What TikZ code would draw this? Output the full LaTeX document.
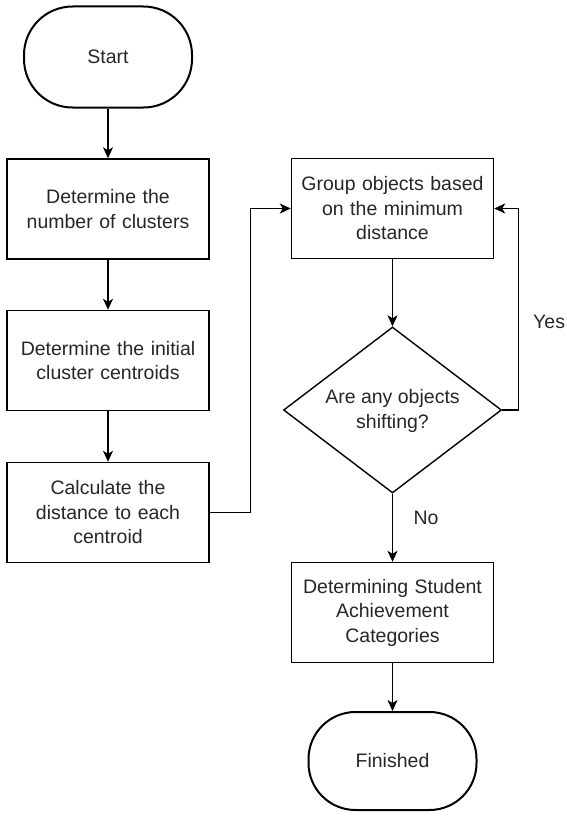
\documentclass[tikz,border=0pt]{standalone}
\usepackage{fontspec}
\setmainfont{Liberation Sans}
\usetikzlibrary{shapes.geometric,arrows.meta}
\newcommand{\fsz}{\fontsize{19.5}{24.5}\selectfont}
\begin{document}
\begin{tikzpicture}[x=1pt,y=-1pt,
  every node/.style={text=black!85},
  box/.style={draw=black,line width=1.4pt,minimum width=202pt,minimum height=100pt,align=center,text width=192pt,inner sep=0pt,font=\fsz},
  term/.style={draw=black,line width=2pt,rounded corners=48.5pt,minimum width=168pt,minimum height=101pt,inner sep=0pt,font=\fsz},
  dia/.style={draw=black,line width=1.4pt,diamond,minimum width=218pt,minimum height=166pt,inner sep=0pt},
  lbl/.style={font=\fsz,inner sep=0pt,align=center},
  conn/.style={draw=black,line width=1.4pt,-{Stealth[length=11pt,width=10pt,inset=3pt]}}
]
\useasboundingbox (0,0) rectangle (566,816);
\node[term] (start) at (108,57) {Start};
\node[box] (b1) at (108,209) {Determine the\\number of clusters};
\node[box] (b2) at (108,360.5) {Determine the initial\\cluster centroids};
\node[box] (b3) at (108,512.5) {Calculate the\\distance to each\\centroid};
\node[box] (b4) at (392.5,208.5) {Group objects based\\on the minimum\\distance};
\node[dia] (d) at (392.5,410) {};
\node[lbl] (dt) at (392.5,411) {Are any objects\\shifting?};
\node[box] (b5) at (392.5,612.5) {Determining Student\\Achievement\\Categories};
\node[term,minimum height=98pt,rounded corners=47pt] (fin) at (392.5,761) {Finished};
\node[lbl,anchor=west] (yes) at (533,322) {Yes};
\node[lbl] (no) at (426,518) {No};
\draw[conn] (start) -- (b1);
\draw[conn] (b1) -- (b2);
\draw[conn] (b2) -- (b3);
\draw[conn] (b3.east) -- ++(41,0) |- (b4.west);
\draw[conn] (b4) -- (d);
\draw[conn] (d.east) -- ++(16,0) |- (b4.east);
\draw[conn] (d) -- (b5);
\draw[conn] (b5) -- (fin);
\end{tikzpicture}
\end{document}
